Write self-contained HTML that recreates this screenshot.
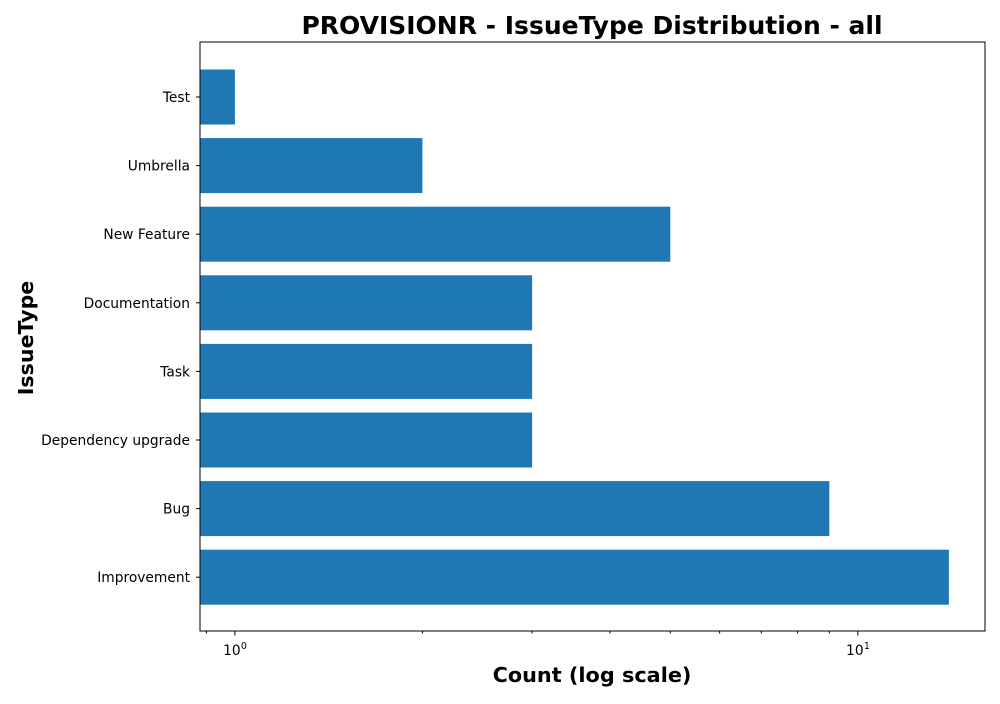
<!DOCTYPE html>
<html><head><meta charset="utf-8"><style>
body{margin:0;background:#fff;font-family:"DejaVu Sans","Liberation Sans",sans-serif}
svg text{font-family:"DejaVu Sans","Liberation Sans",sans-serif}
</style></head><body>
<svg width="1000" height="700" xmlns="http://www.w3.org/2000/svg">
<text x="592" y="34" text-anchor="middle" font-size="25" font-weight="bold">PROVISIONR - IssueType Distribution - all</text>
<text x="592" y="682" text-anchor="middle" font-size="20.8" font-weight="bold">Count (log scale)</text>
<text transform="translate(33,338) rotate(-90)" text-anchor="middle" font-size="20.6" font-weight="bold">IssueType</text>
<g id="bars"></g><g id="yt"></g><g id="xt"></g>
<rect x="200" y="42" width="785" height="589" fill="none" stroke="#000" stroke-width="1"/>
</svg>
<script>
const categories=["Test","Umbrella","New Feature","Documentation","Task","Dependency upgrade","Bug","Improvement"];
const counts=[1,2,5,3,3,3,9,14];
const xMajor=[1,10];
const xMajorLabels=["0","1"];
const xMinor=[0.9,2,3,4,5,6,7,8,9,20];
const L=200,R=985,T=42,B=631,xmin=0.879,xmax=16.0;
const ns="http://www.w3.org/2000/svg";
function x(v){return L+(Math.log10(v)-Math.log10(xmin))/(Math.log10(xmax)-Math.log10(xmin))*(R-L);}
const st=68.6,y0=97;
function y(i){return y0+i*st;}
function mk(t,a,p){const e=document.createElementNS(ns,t);for(const k in a)e.setAttribute(k,a[k]);p.appendChild(e);return e;}
const bars=document.getElementById('bars'),yt=document.getElementById('yt'),xt=document.getElementById('xt');
categories.forEach((c,i)=>{
 const xe=x(counts[i]);
 const r=mk('rect',{x:L,y:y(i)-27.5,width:Math.max(0,xe-L),height:55,fill:'#1f77b4'},bars);
 
 
 mk('line',{x1:L-4,x2:L,y1:y(i),y2:y(i),stroke:'#000'},yt);
 const t=mk('text',{x:L-10,y:y(i)+5,'text-anchor':'end','font-size':13.8},yt);
 t.textContent=c;
 
 
});
xMinor.forEach(v=>{const px=x(v);if(px>=L&&px<=R)mk('line',{x1:px,x2:px,y1:B,y2:B+2.5,stroke:'#000'},xt);});
xMajor.forEach((v,i)=>{const px=x(v);
 mk('line',{x1:px,x2:px,y1:B,y2:B+4.5,stroke:'#000'},xt);
 const t=mk('text',{x:px-3,y:B+24,'text-anchor':'middle','font-size':13.8},xt);
 t.textContent='10';
 
 
 const s=mk('text',{x:px+6,y:B+18,'font-size':9.5},xt);s.textContent=xMajorLabels[i];
});
</script>
</body></html>
